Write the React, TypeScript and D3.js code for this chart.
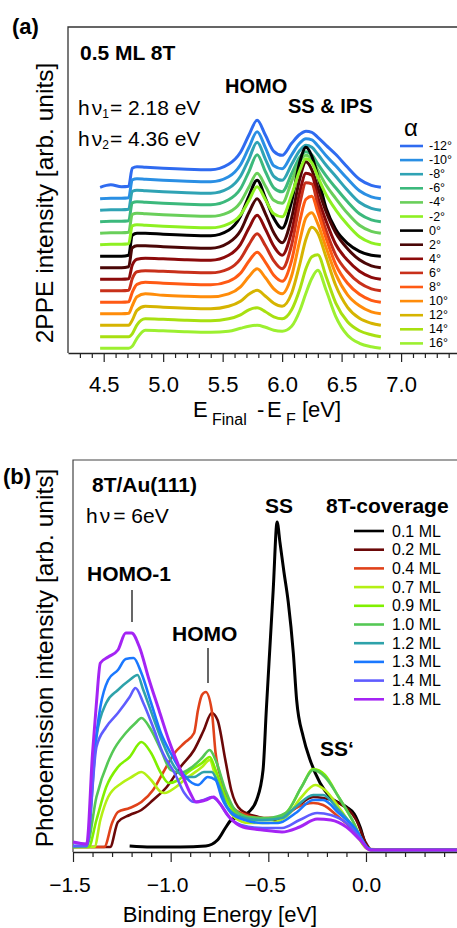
import React from "react";
import * as d3 from "d3";

// ---------- panel (a): 2PPE spectra vs emission angle ----------
const angles = ["-12°", "-10°", "-8°", "-6°", "-4°", "-2°", "0°", "2°", "4°", "6°", "8°", "10°", "12°", "14°", "16°"];
const angleColors = [
  "#2f6bf0", "#2a8fe4", "#2fa3b4", "#3cb97c", "#69cf5a", "#8ef022", "#000000",
  "#4a0606", "#8c0a0a", "#c8301a", "#ff5a14", "#ff8c0a", "#d6b400", "#a8e010", "#9cf030",
];
// final state energy grid [eV]
const energyA = [4.47, 4.56, 4.65, 4.71, 4.74, 4.78, 4.85, 5.0, 5.2, 5.4, 5.55, 5.65, 5.72, 5.79, 5.86, 5.93, 6.0, 6.08, 6.15, 6.2, 6.25, 6.3, 6.37, 6.45, 6.55, 6.65, 6.75, 6.83];
// intensity of each spectrum above its own baseline (arb. units)
const spectraA = [
  [0, 2.5, 0.5, 1, 19, 20.5, 20, 19, 18, 17.5, 23, 35, 52, 67, 52, 36, 32, 44, 53, 56, 55, 50, 42, 33, 20, 8, 2, 0],
  [0, 0.5, 0.5, 1, 19, 20, 19.5, 18.5, 17.5, 17, 22, 34, 51, 67, 51, 33, 30, 44, 56, 60, 59, 53, 43, 33, 20, 8, 2, 0],
  [0, 0.5, 0.5, 1, 19, 20, 19.5, 18.5, 17.5, 17, 22, 34, 51, 68, 51, 34, 30, 46, 60, 65, 63, 56, 45, 34, 20, 8, 2, 0],
  [0, 0.5, 0.5, 1, 19, 20, 19.5, 18.5, 17.5, 17, 22, 33, 50, 67, 50, 34, 30, 48, 65, 70, 67, 58, 46, 34, 20, 8, 2, 0],
  [0, 0.5, 0.5, 1, 19, 20, 19.5, 18.5, 17.5, 17, 21, 31, 46, 60, 47, 33, 30, 52, 72, 78, 74, 63, 48, 35, 20, 8, 2, 0],
  [0, 0.5, 0.5, 1, 19, 20, 19.5, 18.5, 17.5, 17, 21, 30, 44, 58, 45, 31, 28, 50, 75, 86, 82, 68, 50, 35, 20, 8, 2, 0],
  [0, 0, 0, 1, 21, 23, 23, 22, 21, 20.5, 26, 40, 60, 76, 58, 38, 28, 55, 95, 109, 100, 80, 48, 27, 13, 5, 1, 0],
  [0, 0, 0, 1, 20, 22, 22, 21, 20, 19.5, 25, 37, 55, 69, 54, 35, 25, 50, 90, 106, 98, 80, 56, 35, 19, 8, 2, 0],
  [0, 0, 0, 0.5, 14, 20, 21, 20.5, 19.5, 19, 24, 35, 51, 64, 50, 33, 24, 48, 88, 106, 104, 82, 58, 35, 19, 8, 2, 0],
  [0, 0, 0, 0.5, 12, 19, 20, 19.5, 18.5, 18, 22, 32, 46, 57, 45, 30, 22, 46, 88, 108, 107, 86, 60, 36, 19, 8, 2, 0],
  [0, 0, 0, 0.5, 10, 18, 20, 19, 18, 17.5, 21, 29, 41, 50, 40, 27, 21, 42, 82, 103, 106, 90, 64, 38, 19, 8, 2, 0],
  [0, 0, 0, 0.5, 8, 17, 20, 18.5, 17.5, 17, 20, 27, 37, 45, 36, 25, 20, 38, 74, 96, 101, 90, 66, 40, 19, 8, 2, 0],
  [0, 0, 0, 0, 5, 15, 19, 18, 17, 16.5, 19, 24, 31, 35, 29, 22, 19, 32, 62, 86, 98, 92, 68, 40, 18, 7, 2, 0],
  [0, 0, 0, 0, 3, 12, 18, 17.5, 16.5, 16, 18, 22, 27, 29, 25, 20, 18, 27, 48, 68, 80, 82, 60, 34, 15, 6, 2, 0],
  [0, 0, 0, 0, 2, 10, 18, 17.5, 16.5, 16, 17, 20, 22, 23, 21, 18, 17, 22, 38, 55, 70, 78, 58, 32, 13, 5, 1.5, 0],
];
const stackStep = 11.5; // waterfall offset between spectra
const stackBase = 4.7;
const ticksA = [4.5, 5.0, 5.5, 6.0, 6.5, 7.0];

// ---------- panel (b): UPS vs 8T coverage ----------
const coverages = ["0.1 ML", "0.2 ML", "0.4 ML", "0.7 ML", "0.9 ML", "1.0 ML", "1.2 ML", "1.3 ML", "1.4 ML", "1.8 ML"];
const coverageColors = ["#000000", "#6b0808", "#e0421a", "#b4f014", "#80f000", "#55c855", "#2ea2aa", "#1a78ff", "#5f5cff", "#a424f4"];
// [binding energy eV, intensity arb. units]
const spectraB: number[][][] = [
  [[-1.21, 6], [-1.1, 5], [-0.95, 5], [-0.82, 6], [-0.76, 12], [-0.72, 24], [-0.69, 32], [-0.64, 36], [-0.6, 40], [-0.56, 52], [-0.527, 82], [-0.51, 143], [-0.49, 211], [-0.475, 262], [-0.455, 330], [-0.44, 309], [-0.42, 280], [-0.398, 250], [-0.372, 199], [-0.355, 152], [-0.321, 115], [-0.286, 92], [-0.235, 69], [-0.184, 55], [-0.1, 45], [-0.06, 38], [-0.03, 25], [0.0, 7], [0.03, 2], [0.466, 2]],
  [[-1.5, 5], [-1.31, 5], [-1.27, 30], [-1.21, 37], [-1.15, 42], [-1.09, 52], [-1.02, 65], [-0.95, 85], [-0.88, 102], [-0.83, 122], [-0.79, 139], [-0.76, 132], [-0.72, 92], [-0.69, 62], [-0.64, 42], [-0.55, 35], [-0.45, 32], [-0.36, 44], [-0.27, 55], [-0.22, 54], [-0.14, 49], [-0.05, 32], [0.0, 9], [0.03, 2], [0.466, 2]],
  [[-1.5, 5], [-1.34, 5], [-1.3, 29], [-1.27, 40], [-1.21, 44], [-1.15, 50], [-1.09, 62], [-1.04, 79], [-0.98, 99], [-0.93, 109], [-0.88, 119], [-0.86, 142], [-0.84, 157], [-0.82, 160], [-0.79, 142], [-0.77, 99], [-0.74, 72], [-0.71, 52], [-0.64, 39], [-0.53, 34], [-0.43, 35], [-0.36, 44], [-0.27, 49], [-0.22, 47], [-0.14, 35], [-0.05, 19], [0.01, 3], [0.466, 2]],
  [[-1.5, 5], [-1.39, 5], [-1.36, 32], [-1.32, 55], [-1.25, 69], [-1.2, 75], [-1.15, 80], [-1.1, 72], [-1.05, 60], [-1.03, 59], [-0.98, 64], [-0.93, 72], [-0.84, 85], [-0.8, 92], [-0.77, 75], [-0.72, 49], [-0.67, 34], [-0.6, 29], [-0.5, 29], [-0.41, 35], [-0.33, 55], [-0.26, 67], [-0.21, 62], [-0.14, 45], [-0.07, 25], [0.0, 4], [0.03, 2], [0.466, 2]],
  [[-1.5, 5], [-1.42, 5], [-1.38, 32], [-1.33, 65], [-1.27, 85], [-1.21, 95], [-1.15, 110], [-1.1, 99], [-1.05, 79], [-1.01, 69], [-0.96, 72], [-0.91, 80], [-0.84, 89], [-0.8, 95], [-0.77, 82], [-0.72, 55], [-0.67, 39], [-0.6, 32], [-0.5, 32], [-0.41, 39], [-0.33, 65], [-0.27, 83], [-0.21, 77], [-0.14, 55], [-0.07, 32], [0.0, 5], [0.03, 2], [0.466, 2]],
  [[-1.5, 5], [-1.43, 6], [-1.38, 55], [-1.3, 99], [-1.23, 119], [-1.18, 129], [-1.15, 134], [-1.1, 122], [-1.05, 102], [-1.0, 82], [-0.95, 79], [-0.89, 85], [-0.84, 94], [-0.8, 102], [-0.77, 92], [-0.72, 62], [-0.67, 42], [-0.6, 35], [-0.5, 34], [-0.41, 39], [-0.33, 65], [-0.27, 82], [-0.21, 75], [-0.14, 55], [-0.07, 32], [0.0, 5], [0.03, 2], [0.466, 2]],
  [[-1.5, 6], [-1.43, 6], [-1.38, 115], [-1.33, 149], [-1.27, 162], [-1.21, 172], [-1.17, 177], [-1.14, 162], [-1.09, 135], [-1.04, 109], [-0.98, 85], [-0.93, 75], [-0.88, 75], [-0.83, 80], [-0.79, 80], [-0.75, 65], [-0.71, 45], [-0.64, 35], [-0.53, 32], [-0.43, 34], [-0.36, 45], [-0.27, 57], [-0.22, 57], [-0.14, 42], [-0.05, 22], [0.01, 4], [0.04, 2], [0.466, 2]],
  [[-1.5, 6], [-1.43, 6], [-1.39, 100], [-1.36, 145], [-1.32, 172], [-1.27, 182], [-1.23, 193], [-1.19, 194], [-1.15, 179], [-1.1, 149], [-1.05, 119], [-1.0, 99], [-0.95, 82], [-0.89, 69], [-0.86, 67], [-0.81, 75], [-0.77, 72], [-0.74, 55], [-0.69, 39], [-0.62, 32], [-0.53, 29], [-0.45, 29], [-0.36, 39], [-0.27, 52], [-0.22, 52], [-0.14, 39], [-0.05, 22], [0.01, 4], [0.04, 2], [0.466, 2]],
  [[-1.5, 6], [-1.43, 6], [-1.38, 105], [-1.33, 125], [-1.27, 139], [-1.21, 155], [-1.18, 164], [-1.14, 149], [-1.09, 125], [-1.04, 99], [-0.98, 79], [-0.93, 59], [-0.88, 50], [-0.83, 52], [-0.79, 55], [-0.75, 49], [-0.71, 37], [-0.64, 27], [-0.53, 24], [-0.43, 24], [-0.34, 32], [-0.25, 39], [-0.18, 37], [-0.1, 29], [-0.03, 14], [0.02, 2], [0.466, 2]],
  [[-1.5, 10], [-1.43, 8], [-1.4, 99], [-1.38, 149], [-1.36, 189], [-1.32, 195], [-1.27, 202], [-1.23, 219], [-1.2, 219], [-1.16, 205], [-1.11, 172], [-1.06, 142], [-1.01, 112], [-0.95, 82], [-0.9, 59], [-0.87, 50], [-0.82, 52], [-0.78, 55], [-0.75, 49], [-0.7, 35], [-0.63, 25], [-0.53, 22], [-0.43, 20], [-0.34, 25], [-0.25, 33], [-0.18, 32], [-0.1, 25], [-0.03, 12], [0.02, 2], [0.466, 2]],
];
const ticksB = [-1.5, -1.0, -0.5, 0.0];

const FONT = "'Liberation Sans', Arial, Helvetica, sans-serif";
const W = 457;
const H = 928;

function App() {
  const svgRef = React.useRef<SVGSVGElement>(null);

  React.useEffect(() => {
    const svg = d3.select(svgRef.current);
    svg.selectAll("*").remove();
    svg.attr("font-family", FONT);

    // helper for plain text
    const label = (x: number, y: number, s: string, size: number, bold = false) =>
      svg.append("text").attr("x", x).attr("y", y).attr("font-size", size)
        .attr("font-weight", bold ? "bold" : "normal").attr("fill", "#000").text(s);

    // styled bottom axis with major + minor ticks; the minus sign hangs left of the centred digits
    const drawAxis = (x: d3.ScaleLinear<number, number>, y0: number, majors: number[], minors: number[], majorLen: number, fontSize: number, pad: number) => {
      const minor = svg.append("g").attr("transform", `translate(0,${y0})`)
        .call(d3.axisBottom(x).tickValues(minors).tickSize(5).tickSizeOuter(0).tickFormat(() => ""));
      minor.select(".domain").remove();
      minor.selectAll("line").attr("stroke", "#222").attr("stroke-width", 1.2);
      const major = svg.append("g").attr("transform", `translate(0,${y0})`)
        .call(d3.axisBottom(x).tickValues(majors).tickSize(majorLen).tickSizeOuter(0).tickPadding(pad).tickFormat(d3.format(".1f")));
      major.select(".domain").attr("stroke", "#222").attr("stroke-width", 1.3);
      major.selectAll("line").attr("stroke", "#222").attr("stroke-width", 1.2);
      major.selectAll<SVGTextElement, number>("text")
        .attr("font-size", fontSize).attr("font-family", FONT).attr("fill", "#000")
        .attr("dx", (d) => (d < 0 ? "-0.17em" : 0));
    };

    // ---------------- panel (a) ----------------
    const xA = d3.scaleLinear().domain([4.2, 7.47]).range([68, W]);
    const yA = d3.scaleLinear().domain([0, 326]).range([353, 27]);

    svg.append("path").attr("d", `M${xA(4.2)},${yA(0)}V${yA(326)}H${W}`)
      .attr("fill", "none").attr("stroke", "#333").attr("stroke-width", 1.3);

    const minorsA = d3.range(43, 75).map((d) => d / 10).filter((d) => !ticksA.includes(d));
    drawAxis(xA, yA(0), ticksA, minorsA, 9, 22, 14);

    const order = [0, 1, 2, 3, 4, 6, 7, 8, 9, 10, 11, 12, 13, 14, 5];
    order.forEach((i) => {
      const off = stackBase + stackStep * (spectraA.length - 1 - i);
      const line = d3.line<number>()
        .x((_, k) => xA(energyA[k]))
        .y((v) => yA(off + v))
        .curve(d3.curveMonotoneX);
      svg.append("path").attr("d", line(spectraA[i]))
        .attr("fill", "none").attr("stroke", angleColors[i]).attr("stroke-width", 3)
        .attr("stroke-linejoin", "round");
    });

    // legend (a)
    label(404, 136, "α", 24);
    angles.forEach((a, i) => {
      const y = 146 + i * 14.1;
      svg.append("line").attr("x1", 400).attr("x2", 423).attr("y1", y).attr("y2", y)
        .attr("stroke", angleColors[i]).attr("stroke-width", 2.6);
      label(429, y, a, 12.5).attr("dominant-baseline", "central");
    });

    label(12, 34, "(a)", 22, true);
    label(80, 60, "0.5 ML 8T", 21, true);
    label(225, 93, "HOMO", 20, true);
    label(288, 113, "SS & IPS", 20, true);

    [["1", "= 2.18 eV", 115], ["2", "= 4.36 eV", 146]].forEach(([sub, rest, y]) => {
      const t = svg.append("text").attr("x", 78).attr("y", y as number).attr("font-size", 21);
      t.append("tspan").text("h");
      t.append("tspan").attr("dx", 2).text("ν");
      t.append("tspan").attr("font-size", 12).attr("dy", 3).text(sub as string);
      t.append("tspan").attr("dy", -3).attr("dx", 1).text(rest as string);
    });

    // axis titles (a)
    const tA = svg.append("text").attr("y", 417).attr("font-size", 22);
    tA.append("tspan").attr("x", 193).text("E");
    tA.append("tspan").attr("x", 212).attr("y", 425).attr("font-size", 16).text("Final");
    tA.append("tspan").attr("x", 257).attr("y", 417).text("-");
    tA.append("tspan").attr("x", 267).attr("y", 417).text("E");
    tA.append("tspan").attr("x", 286).attr("y", 425).attr("font-size", 16).text("F");
    tA.append("tspan").attr("x", 302).attr("y", 417).text("[eV]");

    svg.append("text").attr("transform", "translate(53,203) rotate(-90)")
      .attr("text-anchor", "middle").attr("font-size", 24.5).text("2PPE intensity [arb. units]");

    // ---------------- panel (b) ----------------
    const xB = d3.scaleLinear().domain([-1.5, 0.466]).range([73, W]);
    const yB = d3.scaleLinear().domain([0, 392]).range([852, 460]);

    svg.append("path").attr("d", `M${xB(-1.5)},${yB(0)}V${yB(392)}H${W}`)
      .attr("fill", "none").attr("stroke", "#444").attr("stroke-width", 1.2);

    const minorsB = d3.range(-14, 5).map((d) => d / 10).filter((d) => !ticksB.includes(d));
    drawAxis(xB, yB(0), ticksB, minorsB, 10, 21, 15);

    const lineB = d3.line<number[]>()
      .x((d) => xB(d[0]))
      .y((d) => yB(d[1]))
      .curve(d3.curveMonotoneX);
    spectraB.forEach((s, i) => {
      svg.append("path").attr("d", lineB(s))
        .attr("fill", "none").attr("stroke", coverageColors[i])
        .attr("stroke-width", i === 0 || i === 9 ? 3 : 2.6).attr("stroke-linejoin", "round");
    });

    // legend (b)
    label(326, 513, "8T-coverage", 21, true);
    coverages.forEach((c, i) => {
      const y = 531 + i * 18.7;
      svg.append("line").attr("x1", 354).attr("x2", 384).attr("y1", y).attr("y2", y)
        .attr("stroke", coverageColors[i]).attr("stroke-width", 2.6);
      label(392, y, c, 16).attr("dominant-baseline", "central");
    });

    label(3, 484, "(b)", 22, true);
    label(92, 492, "8T/Au(111)", 21, true);
    const hv = svg.append("text").attr("x", 86).attr("y", 523).attr("font-size", 21);
    hv.append("tspan").text("h");
    hv.append("tspan").attr("dx", 2).text("ν");
    hv.append("tspan").attr("dx", 3).text("= 6eV");

    label(87, 581, "HOMO-1", 21, true);
    svg.append("line").attr("x1", 132).attr("x2", 132).attr("y1", 590).attr("y2", 622).attr("stroke", "#000").attr("stroke-width", 1.2);
    label(172, 641, "HOMO", 21, true);
    svg.append("line").attr("x1", 208).attr("x2", 208).attr("y1", 648).attr("y2", 683).attr("stroke", "#000").attr("stroke-width", 1.2);
    label(265, 513, "SS", 21, true);
    label(320, 756, "SS‘", 21, true);

    svg.append("text").attr("x", 220).attr("y", 922).attr("text-anchor", "middle")
      .attr("font-size", 22).text("Binding Energy [eV]");
    svg.append("text").attr("transform", "translate(53,658) rotate(-90)")
      .attr("text-anchor", "middle").attr("font-size", 24.5).text("Photoemission intensity [arb. units]");
  }, []);

  return (
    <svg ref={svgRef} width={W} height={H}
      style={{ position: "absolute", left: 0, top: 0, background: "#fff", display: "block" }} />
  );
}

export default App;
